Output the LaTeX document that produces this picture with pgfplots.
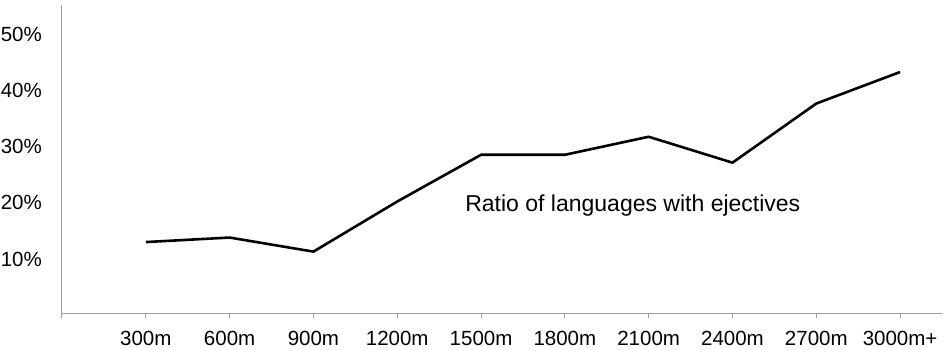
\documentclass[border=0pt]{standalone}
\usepackage{fontspec}
\setmainfont{Liberation Sans}
\usepackage{pgfplots}
\pgfplotsset{compat=1.18}
\begin{document}
\begin{tikzpicture}[x=1pt,y=1pt]
\useasboundingbox (0,0) rectangle (950,349);
\begin{axis}[
  at={(62pt,36pt)}, anchor=south west,
  scale only axis, width=880pt, height=308pt,
  xmin=0, xmax=10.5, ymin=0, ymax=54.7,
  axis x line=bottom, axis y line=left,
  axis line style={-, draw=black!38, line width=1pt},
  xtick={0,1,2,3,4,5,6,7,8,9,10},
  xticklabels={,300m,600m,900m,1200m,1500m,1800m,2100m,2400m,2700m,3000m+},
  ytick={10,20,30,40,50},
  yticklabels={10\%,20\%,30\%,40\%,50\%},
  tick align=outside,
  major tick length=5pt,
  xtick style={draw=black!38, line width=1pt},
  ytick style={draw=none},
  xticklabel style={font=\fontsize{20.5}{24}\selectfont, inner sep=0pt, anchor=north, yshift=-13pt},
  yticklabel style={font=\fontsize{20.5}{24}\selectfont, inner sep=0pt, anchor=east, xshift=-15pt, yshift=-2.5pt},
  clip=false,
]
\addplot[black, line width=2.6pt, line join=round] coordinates {
 (1,12.6) (2,13.4) (3,10.9) (4,19.8) (5,28.1) (6,28.1) (7,31.3) (8,26.7) (9,37.2) (10,42.8)
};
\node[anchor=base west, inner sep=0pt, font=\fontsize{23}{27}\selectfont] at (axis cs:4.81,18.0) {Ratio of languages with ejectives};
\end{axis}
\end{tikzpicture}
\end{document}
